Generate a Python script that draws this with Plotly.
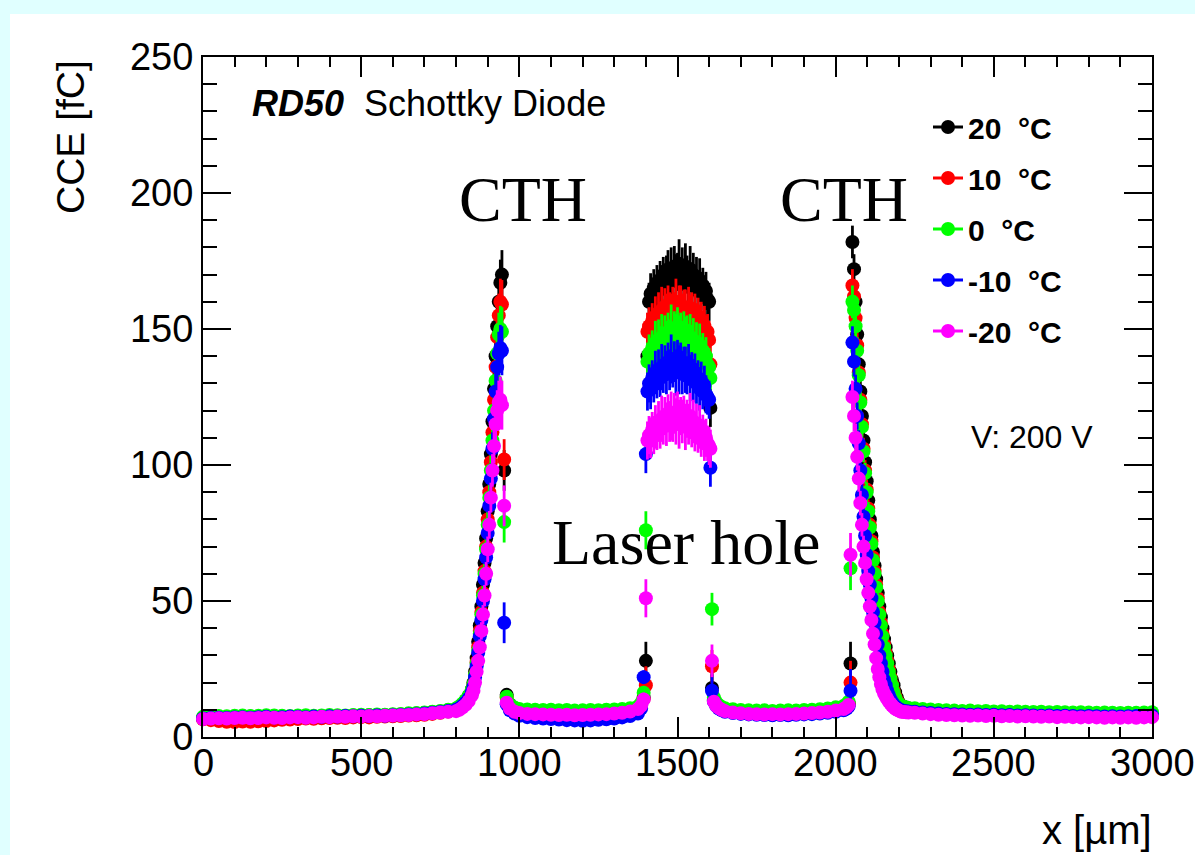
import plotly.graph_objects as go

# ---------------------------------------------------------------------------
# Scan positions x [um] (shared by all temperatures), grouped by region
# ---------------------------------------------------------------------------
X_A = [0, 25, 50, 75, 100, 125, 150, 175, 200, 225, 250, 275, 300, 325, 350, 375,
       400, 425, 450, 475, 500, 525, 550, 575, 600, 625, 650, 675, 700, 725, 750, 775]
X_B = [800, 810, 820, 830, 840, 850, 855, 860, 865, 870, 875, 880, 885, 890, 895,
       900, 905, 910, 915, 920, 925, 930, 935, 940, 945, 952]
X_C = [960, 970, 985, 1000, 1025, 1050, 1075, 1100, 1125, 1150, 1175, 1200, 1225,
       1250, 1275, 1300, 1325, 1350, 1375, 1385, 1393, 1400]
X_P = [1405, 1410, 1415, 1420, 1425, 1430, 1435, 1440, 1445, 1450, 1455, 1460, 1465,
       1470, 1475, 1480, 1485, 1490, 1495, 1500, 1505, 1510, 1515, 1520, 1525, 1530,
       1535, 1540, 1545, 1550, 1555, 1560, 1565, 1570, 1575, 1580, 1585, 1590, 1595,
       1600, 1604, 1609]
X_E = [1615, 1622, 1630, 1640, 1650, 1675, 1700, 1725, 1750, 1775, 1800, 1825, 1850,
       1875, 1900, 1925, 1950, 1975, 2000, 2025, 2035, 2041]
X_R = [2047, 2053, 2058, 2063, 2068, 2073, 2078, 2083, 2088, 2093, 2098, 2103, 2108,
       2113, 2118, 2123, 2128, 2133, 2138, 2143, 2148, 2153, 2158, 2163, 2168, 2173,
       2178, 2183, 2188, 2193, 2198, 2203, 2208, 2215, 2222, 2230]
X_G = [2250, 2275, 2300, 2325, 2350, 2375, 2400, 2425, 2450, 2475, 2500, 2525, 2550,
       2575, 2600, 2625, 2650, 2675, 2700, 2725, 2750, 2775, 2800, 2825, 2850, 2875,
       2900, 2925, 2950, 2975, 3000]

# Uncertainty of the collected charge [fC] at each scan position
ERR_A = [0.8, 0.8, 0.8, 0.8, 0.8, 0.8, 0.8, 0.8, 0.8, 0.8, 0.8, 0.8, 0.8, 0.8, 0.8, 0.8,
         0.8, 0.8, 0.8, 0.8, 0.8, 0.8, 0.8, 0.8, 0.8, 0.8, 0.8, 0.8, 0.8, 0.8, 0.8, 0.8]
ERR_B = [0.9, 1.0, 1.1, 1.2, 1.4, 1.6, 1.8, 2.0, 2.3, 2.6, 2.9, 3.2, 3.5, 3.9, 4.3,
         4.7, 5.1, 5.5, 6.0, 6.5, 7.0, 7.5, 8.0, 8.5, 9.0, 7.5]
ERR_C = [1.5, 1.0, 0.9, 0.8, 0.8, 0.8, 0.8, 0.8, 0.8, 0.8, 0.8, 0.8, 0.8,
         0.8, 0.8, 0.8, 0.8, 0.8, 0.8, 1.2, 2.5, 7.0]
ERR_P = [7.0, 7.0, 7.5, 6.5, 7.0, 8.0, 6.5, 7.5, 7.0, 8.5, 6.5, 7.0, 8.0, 7.0,
         7.5, 9.0, 6.5, 7.5, 8.5, 7.0, 9.0, 7.0, 8.0, 6.5, 8.5, 7.0, 7.5, 8.5,
         6.5, 8.0, 7.0, 7.5, 6.5, 8.0, 7.0, 6.5, 7.5, 7.0, 6.5, 7.0, 7.0, 6.0]
ERR_E = [1.5, 1.2, 1.0, 0.9, 0.8, 0.8, 0.8, 0.8, 0.8, 0.8, 0.8, 0.8, 0.8,
         0.8, 0.8, 0.8, 0.8, 0.8, 0.8, 0.8, 0.8, 0.8]
ERR_R = [8.0, 6.0, 5.5, 5.2, 5.0, 4.8, 4.5, 4.3, 4.0, 3.8, 3.6, 3.4, 3.2, 3.0, 2.8,
         2.6, 2.5, 2.3, 2.2, 2.0, 1.9, 1.8, 1.7, 1.6, 1.5, 1.4, 1.3, 1.2, 1.1, 1.0,
         0.9, 0.9, 0.9, 0.8, 0.8, 0.8]
ERR_G = [0.8, 0.8, 0.8, 0.8, 0.8, 0.8, 0.8, 0.8, 0.8, 0.8, 0.8, 0.8, 0.8, 0.8, 0.8,
         0.8, 0.8, 0.8, 0.8, 0.8, 0.8, 0.8, 0.8, 0.8, 0.8, 0.8, 0.8, 0.8, 0.8, 0.8, 0.8]

# ---------------------------------------------------------------------------
# CCE [fC] per temperature, same regions as the scan positions
# ---------------------------------------------------------------------------
# 20 C
T20_A = [7.0, 7.2, 7.0, 7.3, 7.4, 7.2, 7.5, 7.4, 7.3, 7.6, 7.5, 7.4, 7.6, 7.7, 7.5, 7.6,
         7.8, 7.6, 7.7, 7.9, 7.8, 8.0, 8.1, 8.0, 8.2, 8.3, 8.5, 8.6, 8.8, 9.1, 9.4, 9.8]
T20_B = [10.3, 11.0, 12.0, 13.3, 15.0, 17.5, 20, 24, 29, 35, 41, 48, 56, 64, 73, 83,
         93, 104, 116, 128, 140, 151, 160, 167, 170, 98]
T20_C = [15.5, 12.0, 10.2, 9.4, 9.0, 8.8, 8.7, 8.5, 8.4, 8.3, 8.2, 8.3, 8.2, 8.4, 8.5,
         8.7, 9.0, 9.4, 10.2, 11.5, 14.5, 28]
T20_P = [140, 160, 163, 160, 165, 162, 167, 164, 168, 165, 170, 166, 169, 172, 167,
         171, 168, 173, 169, 171, 174, 169, 172, 168, 173, 170, 167, 172, 168, 170,
         166, 169, 165, 168, 164, 166, 162, 164, 161, 160, 121, 18]
T20_E = [13.5, 12.0, 11.0, 10.3, 9.9, 9.4, 9.1, 9.0, 8.9, 8.8, 8.9, 8.8, 8.9, 9.0, 9.1,
         9.2, 9.4, 9.7, 10.1, 10.6, 11.4, 12.3]
T20_R = [27, 182, 172, 160, 148, 137, 127, 118, 109, 101, 94, 87, 80, 74, 68, 63, 58,
         53, 48, 44, 40, 36, 33, 30, 27, 24, 21, 19, 16.5, 14.5, 13, 12, 11.5, 11,
         10.7, 10.5]
T20_G = [10.0, 9.6, 9.3, 9.1, 8.9, 8.8, 8.7, 8.6, 8.5, 8.6, 8.4, 8.5, 8.3, 8.4, 8.2,
         8.3, 8.1, 8.2, 8.0, 8.1, 8.0, 7.9, 8.0, 7.8, 7.9, 7.8, 7.7, 7.8, 7.7, 7.8, 7.9]

# 10 C
T10_A = [6.5, 6.2, 5.9, 5.6, 5.5, 5.7, 5.6, 5.8, 5.9, 6.1, 6.3, 6.4, 6.6, 6.8, 6.7, 6.9,
         7.0, 7.1, 7.0, 7.2, 7.3, 7.2, 7.4, 7.5, 7.6, 7.7, 7.9, 8.0, 8.2, 8.5, 8.9, 9.4]
T10_B = [9.8, 10.5, 11.5, 12.8, 14.5, 17.0, 19, 23, 27.5, 33, 39, 46, 53, 61, 70, 80,
         90, 101, 112, 124, 136, 147, 155, 160, 159, 102]
T10_C = [14.5, 11.5, 10.0, 9.2, 8.8, 8.6, 8.4, 8.3, 8.2, 8.0, 8.1, 8.0, 8.2, 8.3, 8.4,
         8.6, 8.9, 9.3, 10.0, 11.8, 14.0, 19]
T10_P = [149, 151, 149, 153, 150, 154, 151, 156, 153, 157, 154, 158, 155, 159, 156,
         154, 159, 156, 160, 155, 157, 159, 155, 158, 156, 153, 158, 154, 157, 152,
         156, 152, 155, 151, 153, 149, 151, 148, 149, 146, 137, 26]
T10_E = [14.0, 12.2, 11.1, 10.4, 9.9, 9.4, 9.1, 8.9, 8.8, 8.7, 8.8, 8.7, 8.8, 8.9, 9.0,
         9.1, 9.3, 9.6, 10.0, 10.5, 11.2, 12.0]
T10_R = [20, 166, 162, 154, 144, 134, 124, 115, 106, 98, 91, 84, 78, 72, 66, 61, 56,
         51, 46, 42, 38, 34, 31, 28, 25, 22, 19.5, 17, 15, 13.5, 12.5, 11.8, 11.3,
         11.0, 10.7, 10.5]
T10_G = [9.9, 9.5, 9.2, 9.0, 8.8, 8.6, 8.5, 8.4, 8.3, 8.2, 8.3, 8.1, 8.2, 8.0, 8.1,
         7.9, 8.0, 7.8, 7.9, 7.7, 7.8, 7.6, 7.7, 7.5, 7.6, 7.5, 7.4, 7.5, 7.4, 7.5, 7.6]

# 0 C
T0_A = [7.4, 7.5, 7.7, 7.6, 7.8, 7.9, 7.7, 7.8, 8.0, 7.9, 7.8, 7.7, 7.9, 8.0, 7.8, 7.9,
        8.1, 8.0, 7.9, 8.1, 8.2, 8.1, 8.3, 8.2, 8.4, 8.5, 8.7, 8.8, 9.0, 9.3, 9.6, 10.0]
T0_B = [10.5, 11.2, 12.2, 13.5, 15.2, 17.5, 19.5, 23, 27, 32, 38, 45, 52, 60, 69, 78,
        88, 98, 109, 120, 131, 141, 148, 150, 149, 79]
T0_C = [14.8, 12.0, 10.8, 10.3, 10.1, 10.0, 9.9, 10.0, 9.8, 9.9, 9.7, 9.8, 9.9, 9.8,
        10.0, 10.1, 10.3, 10.6, 11.2, 12.5, 16.3, 76]
T0_P = [138, 141, 139, 143, 141, 145, 142, 146, 144, 147, 143, 148, 145, 149, 146,
        150, 146, 149, 147, 151, 146, 149, 145, 150, 146, 148, 144, 147, 145, 146,
        142, 145, 141, 144, 140, 142, 138, 140, 137, 136, 132, 47]
T0_E = [14.5, 12.8, 11.8, 11.0, 10.6, 10.2, 9.9, 9.8, 9.7, 9.8, 9.6, 9.7, 9.8, 9.7,
        9.9, 10.0, 10.2, 10.5, 10.9, 11.4, 12.1, 13.0]
T0_R = [62, 160, 157, 151, 142, 133, 123, 114, 105, 97, 90, 83, 77, 71, 65, 60, 55,
        50, 45, 41, 37, 33, 30, 27, 24, 21.5, 19, 16.5, 14.5, 13.2, 12.3, 11.8, 11.4,
        11.1, 10.9, 10.7]
T0_G = [10.6, 10.3, 10.1, 9.9, 9.8, 9.7, 9.6, 9.7, 9.5, 9.6, 9.4, 9.5, 9.3, 9.4, 9.3,
        9.2, 9.3, 9.1, 9.2, 9.1, 9.0, 9.1, 9.0, 8.9, 9.0, 8.9, 8.8, 8.9, 8.9, 9.0, 9.1]

# -10 C
TM10_A = [6.8, 7.0, 7.1, 7.0, 7.2, 7.3, 7.1, 7.3, 7.4, 7.2, 7.3, 7.5, 7.4, 7.3, 7.5, 7.4,
          7.6, 7.5, 7.7, 7.6, 7.8, 7.7, 7.9, 7.8, 8.0, 8.1, 8.3, 8.4, 8.6, 8.9, 9.2, 9.6]
TM10_B = [10.0, 10.6, 11.5, 12.7, 14.2, 16.5, 18.5, 22, 26, 31, 37, 43, 50, 58, 66, 75,
          85, 95, 106, 117, 127, 136, 141, 143, 142, 42]
TM10_C = [12.0, 9.8, 8.6, 7.8, 7.3, 7.0, 6.8, 6.6, 6.4, 6.2, 6.1, 6.0, 6.1, 6.3, 6.5,
          6.8, 7.2, 7.7, 8.6, 10.5, 22, 104]
TM10_P = [127, 130, 128, 132, 130, 134, 131, 135, 132, 136, 133, 137, 134, 138, 135,
          139, 135, 138, 134, 139, 135, 138, 134, 137, 135, 133, 137, 132, 135, 131,
          134, 130, 132, 128, 131, 127, 129, 126, 125, 124, 99, 17]
TM10_E = [13.0, 11.5, 10.5, 9.8, 9.3, 8.8, 8.5, 8.3, 8.2, 8.1, 8.0, 8.1, 8.0, 8.2, 8.3,
          8.4, 8.6, 8.9, 9.3, 9.8, 10.5, 11.3]
TM10_R = [17, 145, 138, 128, 118, 108, 98, 89, 81, 74, 67, 61, 56, 51, 46, 42, 38, 34,
          30, 27, 24, 21, 19, 17, 15.5, 14, 13, 12, 11.3, 10.8, 10.4, 10.0, 9.8, 9.6,
          9.5, 9.4]
TM10_G = [9.3, 9.0, 8.8, 8.6, 8.5, 8.4, 8.3, 8.2, 8.3, 8.1, 8.2, 8.0, 8.1, 7.9, 8.0,
          7.9, 7.8, 7.9, 7.7, 7.8, 7.7, 7.6, 7.7, 7.6, 7.5, 7.6, 7.5, 7.6, 7.7, 7.8, 7.9]

# -20 C
TM20_A = [6.6, 6.8, 6.9, 6.8, 7.0, 7.1, 6.9, 7.0, 7.2, 7.1, 7.0, 7.2, 7.3, 7.1, 7.2, 7.4,
          7.3, 7.5, 7.4, 7.6, 7.5, 7.7, 7.6, 7.8, 7.9, 8.0, 8.1, 8.3, 8.4, 8.7, 9.0, 9.3]
TM20_B = [9.5, 10.0, 10.8, 11.8, 13.2, 15.3, 17, 20, 24, 28, 33, 39, 45, 52, 60, 69,
          78, 88, 98, 107, 115, 120, 123, 124, 122, 85]
TM20_C = [12.6, 10.5, 9.3, 8.8, 8.5, 8.4, 8.3, 8.2, 8.1, 8.2, 8.0, 8.1, 8.2, 8.3, 8.4,
          8.6, 8.9, 9.4, 10.3, 11.5, 13.8, 51]
TM20_P = [109, 111, 110, 113, 111, 114, 112, 116, 113, 117, 114, 118, 115, 119, 116,
          118, 115, 119, 116, 120, 115, 118, 116, 119, 114, 117, 115, 118, 113, 116,
          112, 115, 111, 114, 110, 112, 109, 110, 108, 107, 106, 28]
TM20_E = [13.0, 11.6, 10.7, 10.0, 9.5, 9.0, 8.7, 8.5, 8.4, 8.3, 8.4, 8.3, 8.4, 8.5, 8.6,
          8.8, 9.0, 9.3, 9.7, 10.3, 11.0, 11.8]
TM20_R = [67, 125, 118, 110, 103, 95, 86, 78, 70, 64, 58, 53, 48, 43, 38, 34, 29, 25,
          22, 19.5, 17.5, 16, 15, 14, 13, 12.3, 11.6, 11, 10.5, 10.1, 9.8, 9.5, 9.3,
          9.2, 9.1, 9.0]
TM20_G = [8.9, 8.6, 8.4, 8.2, 8.1, 8.0, 7.9, 7.8, 7.9, 7.7, 7.8, 7.6, 7.7, 7.5, 7.6,
          7.5, 7.4, 7.5, 7.3, 7.4, 7.3, 7.2, 7.3, 7.2, 7.1, 7.2, 7.1, 7.2, 7.1, 7.2, 7.3]

LABELS = ["20 \u00a0°C", "10 \u00a0°C", "0 \u00a0°C", "-10 \u00a0°C", "-20 \u00a0°C"]
COLORS = ["#000000", "#ff0000", "#00ff00", "#0000ff", "#ff00ff"]

# x-axis tick labels
X_TICKS = [0, 500, 1000, 1500, 2000, 2500, 3000]
X_TICK_TEXT = ["0", "500", "1000", "1500", "2000", "2500", "3000"]

X_UM = X_A + X_B + X_C + X_P + X_E + X_R + X_G
Y_ERR = ERR_A + ERR_B + ERR_C + ERR_P + ERR_E + ERR_R + ERR_G
SERIES = [
    T20_A + T20_B + T20_C + T20_P + T20_E + T20_R + T20_G,
    T10_A + T10_B + T10_C + T10_P + T10_E + T10_R + T10_G,
    T0_A + T0_B + T0_C + T0_P + T0_E + T0_R + T0_G,
    TM10_A + TM10_B + TM10_C + TM10_P + TM10_E + TM10_R + TM10_G,
    TM20_A + TM20_B + TM20_C + TM20_P + TM20_E + TM20_R + TM20_G,
]

# ---------------------------------------------------------------------------
# Page geometry (pixels) for the frame and the placement of labels
# ---------------------------------------------------------------------------
W, H = 1195, 855
L, R, T, B = 203, 1152, 57, 737
PW, PH = R - L, B - T


def px(xp):
    return (xp - L) / PW


def py(yp):
    return (B - yp) / PH


fig = go.Figure()

for name, color, yvals in zip(LABELS, COLORS, SERIES):
    fig.add_trace(go.Scatter(
        x=X_UM, y=yvals, mode="markers", showlegend=False, cliponaxis=False,
        marker=dict(symbol="circle", size=14, color=color, line=dict(width=0)),
        error_y=dict(type="data", array=Y_ERR, visible=True, color=color,
                     thickness=2.8, width=0),
        hoverinfo="skip",
    ))

# legend entries drawn as line + marker
for i, (name, color) in enumerate(zip(LABELS, COLORS)):
    fig.add_trace(go.Scatter(
        x=[None], y=[None], mode="lines+markers", name=name, legendgroup=str(i),
        line=dict(color=color, width=3),
        marker=dict(symbol="circle", size=14, color=color),
    ))

SERIF = "Liberation Serif"
SANS = "Liberation Sans"

annotations = [
    dict(x=px(250), y=py(104), xanchor="left", yanchor="middle",
         text="<b><i>RD50</i></b>  Schottky Diode",
         font=dict(family=SANS, size=36, color="black")),
    dict(x=px(523), y=py(199), xanchor="center", yanchor="middle", text="CTH",
         font=dict(family=SERIF, size=64, color="black")),
    dict(x=px(844), y=py(199), xanchor="center", yanchor="middle", text="CTH",
         font=dict(family=SERIF, size=64, color="black")),
    dict(x=px(686), y=py(542), xanchor="center", yanchor="middle", text="Laser hole",
         font=dict(family=SERIF, size=64, color="black")),
    dict(x=px(969), y=py(437), xanchor="left", yanchor="middle", text="V: 200 V",
         font=dict(family=SANS, size=32, color="black")),
    dict(x=px(70), y=py(137), xanchor="center", yanchor="middle", text="CCE [fC]",
         textangle=-90, font=dict(family=SANS, size=39, color="black")),
    dict(x=px(1154), y=py(830), xanchor="right", yanchor="middle", text="x [µm]",
         font=dict(family=SANS, size=40, color="black")),
]
for a in annotations:
    a.update(xref="paper", yref="paper", showarrow=False)

# x tick labels placed on the axis scale, just under the frame
for val, txt in zip(X_TICKS, X_TICK_TEXT):
    annotations.append(dict(
        x=val, xref="x", y=py(763), yref="paper", xanchor="center", yanchor="middle",
        text=txt, showarrow=False, font=dict(family=SANS, size=38, color="black"),
    ))

CYAN = "#e0ffff"
shapes = [
    # light cyan bands along the top and left edges of the page
    dict(type="rect", xref="paper", yref="paper", x0=px(0), x1=px(W),
         y0=py(0), y1=py(14), fillcolor=CYAN, line=dict(width=0), layer="below"),
    dict(type="rect", xref="paper", yref="paper", x0=px(0), x1=px(10),
         y0=py(0), y1=py(H), fillcolor=CYAN, line=dict(width=0), layer="below"),
]

axis_common = dict(
    showgrid=False, zeroline=False, showline=True, linecolor="black", linewidth=2,
    mirror="ticks", ticks="inside", tickcolor="black", tickwidth=2,
    tickfont=dict(family=SANS, size=38, color="black"),
)

fig.update_layout(
    width=W, height=H,
    margin=dict(l=L, r=W - R, t=T, b=H - B, pad=0),
    paper_bgcolor="white", plot_bgcolor="rgba(0,0,0,0)",
    font=dict(family=SANS, color="black"),
    xaxis=dict(range=[0, 3000], tick0=0, dtick=500, ticklen=20, showticklabels=False,
               minor=dict(dtick=100, ticks="inside", ticklen=10, tickwidth=2,
                          tickcolor="black", showgrid=False),
               **axis_common),
    yaxis=dict(range=[0, 250], tick0=0, dtick=50, ticklen=28,
               minor=dict(dtick=10, ticks="inside", ticklen=14, tickwidth=2,
                          tickcolor="black", showgrid=False),
               **axis_common),
    legend=dict(x=px(928), y=py(101), xanchor="left", yanchor="top",
                bgcolor="rgba(0,0,0,0)", borderwidth=0, tracegroupgap=9,
                font=dict(family=SANS, size=30, color="black", weight="bold")),
    annotations=annotations,
    shapes=shapes,
)

fig.write_html("out.html")
